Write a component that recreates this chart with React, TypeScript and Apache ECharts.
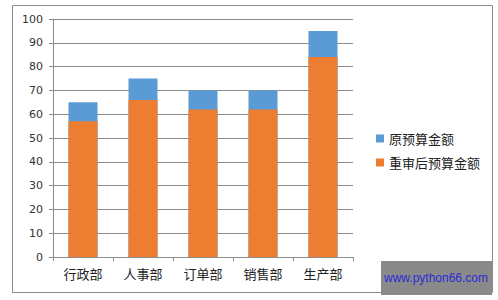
import React, { useEffect, useRef } from "react";
import * as echarts from "echarts";

const categories = ["行政部", "人事部", "订单部", "销售部", "生产部"];
const originalBudget = [65, 75, 70, 70, 95];
const revisedBudget = [57, 66, 62, 62, 84];
const seriesNames = ["原预算金额", "重审后预算金额"];
const watermarkText = "www.python66.com";

export default function App() {
  const ref = useRef<HTMLDivElement>(null);
  useEffect(() => {
    if (!ref.current) return;
    const chart = echarts.init(ref.current, undefined, { renderer: "svg" });
    const gray = "#8c8c8c";
    chart.setOption({
      animation: false,
      backgroundColor: "#ffffff",
      grid: { left: 53, right: 145, top: 19, bottom: 43, containLabel: false },
      legend: {
        orient: "vertical",
        left: 371,
        top: 127,
        itemWidth: 8,
        itemHeight: 8,
        itemGap: 11,
        icon: "rect",
        data: seriesNames,
        textStyle: { fontFamily: "Noto Sans CJK SC", fontSize: 13, color: "#222" },
      },
      xAxis: {
        type: "category",
        data: categories,
        axisLine: { lineStyle: { color: gray } },
        axisTick: { show: true, length: 4, lineStyle: { color: gray } },
        axisLabel: { margin: 10, fontFamily: "Noto Sans CJK SC", fontSize: 13, color: "#222" },
      },
      yAxis: {
        type: "value",
        min: 0,
        max: 100,
        interval: 10,
        axisLine: { show: true, lineStyle: { color: gray } },
        axisTick: { show: true, length: 4, lineStyle: { color: gray } },
        splitLine: { lineStyle: { color: gray, width: 1 } },
        axisLabel: { margin: 10, fontFamily: "DejaVu Sans", fontSize: 11, color: "#333" },
      },
      series: [
        {
          name: seriesNames[0],
          type: "bar",
          data: originalBudget,
          barWidth: 29,
          barGap: "-100%",
          itemStyle: { color: "#5B9BD5" },
          z: 1,
        },
        {
          name: seriesNames[1],
          type: "bar",
          data: revisedBudget,
          barWidth: 29,
          barGap: "-100%",
          itemStyle: { color: "#ED7D31" },
          z: 2,
        },
      ],
      graphic: [
        {
          type: "rect",
          shape: { x: 12.5, y: 5.5, width: 480, height: 287 },
          style: { fill: "none", stroke: "#8a8a8a", lineWidth: 1 },
          z: 0,
          silent: true,
        },
        {
          type: "rect",
          shape: { x: 381, y: 261, width: 111, height: 34 },
          style: { fill: "#8a8a8a" },
          z: 100,
        },
        {
          type: "text",
          x: 436,
          y: 278,
          z: 101,
          style: {
            text: watermarkText,
            fill: "#2a2ad8",
            fontSize: 12,
            fontFamily: "Liberation Sans",
            align: "center",
            verticalAlign: "middle",
          },
        },
      ],
    });
    return () => chart.dispose();
  }, []);
  return (
    <div
      ref={ref}
      style={{ position: "fixed", left: 0, top: 0, width: 498, height: 300 }}
    />
  );
}
